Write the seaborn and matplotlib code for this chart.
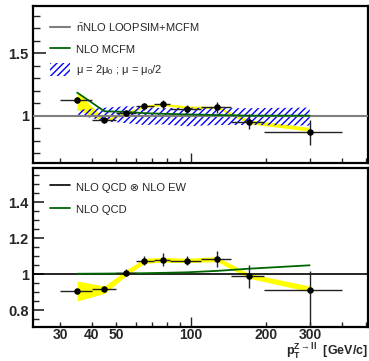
import numpy as np
import pandas as pd
import matplotlib
matplotlib.use("Agg")
import matplotlib.pyplot as plt
import seaborn as sns
from matplotlib.lines import Line2D
from matplotlib.patches import Patch
from matplotlib.ticker import FixedLocator, FuncFormatter, NullFormatter

# ---------------- data ----------------
pt_center = [35, 45, 55, 65, 77, 96, 127, 170, 298]
pt_lo = [30, 40, 50, 60, 71, 82, 110, 145, 195]
pt_hi = [40, 50, 60, 71, 82, 110, 145, 195, 400]

# top panel
top_data = [1.125, 0.963, 1.021, 1.074, 1.090, 1.053, 1.066, 0.952, 0.865]
top_err = [0.022, 0.015, 0.020, 0.027, 0.035, 0.033, 0.042, 0.063, 0.100]
top_yellow_lo = [1.050, 0.950, 1.010, 1.065, 1.080, 1.058, 1.058, 0.935, 0.875]
top_yellow_hi = [1.190, 0.975, 1.030, 1.085, 1.100, 1.078, 1.075, 0.968, 0.905]
top_scale_lo = [1.010, 0.955, 0.940, 0.925, 0.930, 0.915, 0.925, 0.925, 0.920]
top_scale_hi = [1.046, 1.064, 1.075, 1.070, 1.060, 1.065, 1.060, 1.060, 1.065]
top_nlo = [1.185, 1.035, 1.030, 1.020, 1.015, 1.010, 1.005, 1.000, 1.000]
top_ref = 1.0

# bottom panel
bot_data = [0.905, 0.917, 1.009, 1.076, 1.081, 1.074, 1.085, 0.989, 0.915]
bot_err_lo = [0.010, 0.015, 0.020, 0.025, 0.035, 0.025, 0.045, 0.065, 0.200]
bot_err_hi = [0.010, 0.015, 0.020, 0.025, 0.035, 0.025, 0.045, 0.065, 0.105]
bot_yellow_lo = [0.852, 0.894, 0.992, 1.061, 1.067, 1.065, 1.070, 0.978, 0.903]
bot_yellow_hi = [0.963, 0.935, 1.024, 1.089, 1.094, 1.089, 1.098, 1.005, 0.935]
bot_nlo = [1.003, 1.004, 1.005, 1.006, 1.008, 1.011, 1.019, 1.031, 1.050]
bot_ref = 1.0

x_range = [23.3, 510]
top_ylim = [0.62, 1.88]
bot_ylim = [0.709, 1.592]

x_major = [100]
x_minor = [30, 40, 50, 60, 70, 80, 90, 200, 300, 400, 500]
x_labeled = [30, 40, 50, 100, 200, 300]

top_labels = [r"$\bar{\mathrm{n}}$NLO LOOPSIM+MCFM", "NLO MCFM",
              r"$\mu$ = 2$\mu_{0}$ ; $\mu$ = $\mu_{0}$/2"]
bot_labels = ["NLO QCD \u2297 NLO EW", "NLO QCD"]
xlabel = r"$\mathbf{p}_{\mathbf{T}}^{\mathbf{Z\rightarrow ll}}$  [GeV/c]"

# ---------------- style ----------------
sns.set_theme(style="ticks")
plt.rcParams["font.family"] = ["Liberation Sans", "DejaVu Sans"]
plt.rcParams["mathtext.fontset"] = "custom"
plt.rcParams["mathtext.rm"] = "Liberation Sans"
plt.rcParams["mathtext.it"] = "Liberation Sans"
plt.rcParams["mathtext.bf"] = "Liberation Sans:bold"
plt.rcParams["hatch.linewidth"] = 1.0
plt.rcParams["hatch.color"] = "#0000ff"

GREEN = "#006600"
GRAY = "#7f7f7f"
YELLOW = "#ffff00"
BLUE = "#0000ff"

fig = plt.figure(figsize=(3.69, 3.61), dpi=100)
ax1 = fig.add_axes([33 / 369, 1 - 163 / 361, 335 / 369, 157 / 361])
ax2 = fig.add_axes([33 / 369, 1 - 326.7 / 361, 335 / 369, 159 / 361])

df = pd.DataFrame({
    "pt": pt_center, "lo": pt_lo, "hi": pt_hi,
    "top": top_data, "top_err": top_err,
    "top_nlo": top_nlo,
    "bot": bot_data, "bot_nlo": bot_nlo,
})
xerr = [np.array(pt_center) - np.array(pt_lo), np.array(pt_hi) - np.array(pt_center)]

fmt = FuncFormatter(lambda v, p: "%g" % v)


def style_axis(ax, ylim, ymaj, ymin, ymaj_len, ymin_len):
    ax.set_xscale("log")
    ax.set_xlim(x_range)
    ax.set_ylim(ylim)
    ax.xaxis.set_major_locator(FixedLocator(x_major))
    ax.xaxis.set_minor_locator(FixedLocator(x_minor))
    ax.yaxis.set_major_locator(FixedLocator(ymaj))
    ax.yaxis.set_minor_locator(FixedLocator(ymin))
    ax.yaxis.set_major_formatter(fmt)
    ax.tick_params(axis="x", which="major", direction="in", length=7.5, width=1.0,
                   top=False, bottom=True)
    ax.tick_params(axis="x", which="minor", direction="in", length=3.6, width=1.0,
                   top=False, bottom=True)
    ax.tick_params(axis="y", which="major", direction="in", length=ymaj_len, width=1.2,
                   left=True, right=False, labelsize=10.5, pad=3)
    ax.tick_params(axis="y", which="minor", direction="in", length=ymin_len, width=1.0,
                   left=True, right=False)
    for lab in ax.get_yticklabels():
        lab.set_fontweight("bold")
    for s in ax.spines.values():
        s.set_linewidth(1.6)
        s.set_color("black")
        s.set_visible(True)
    ax.set_xlabel("")
    ax.set_ylabel("")


# ---------------- top panel ----------------
ax1.fill_between(pt_center, top_yellow_lo, top_yellow_hi, color=YELLOW, linewidth=0, zorder=1)
ax1.fill_between(pt_center, top_scale_lo, top_scale_hi, facecolor="none", edgecolor=BLUE,
                 hatch="/////", linewidth=0, zorder=2)
ax1.plot(x_range, [top_ref, top_ref], color=GRAY, lw=1.5, zorder=3)
sns.lineplot(data=df, x="pt", y="top_nlo", ax=ax1, color=GREEN, lw=1.3,
             estimator=None, sort=False, zorder=4)
ax1.errorbar(pt_center, top_data, xerr=xerr, yerr=top_err, fmt="none",
             ecolor="#222222", elinewidth=1.0, capsize=0, zorder=5)
sns.scatterplot(data=df, x="pt", y="top", ax=ax1, color="black", s=22,
                edgecolor="black", linewidth=0, zorder=6)

style_axis(ax1, top_ylim, [1.0, 1.5], list(np.round(np.arange(0.7, 1.9, 0.1), 2)), 9, 4.7)
ax1.xaxis.set_major_formatter(NullFormatter())
ax1.xaxis.set_minor_formatter(NullFormatter())

h_top = [Line2D([], [], color=GRAY, lw=1.5),
         Line2D([], [], color=GREEN, lw=1.3),
         Patch(facecolor="none", edgecolor=BLUE, hatch="/////", linewidth=0)]
ax1.legend(h_top, top_labels, loc="upper left", bbox_to_anchor=(0.05, 0.897),
           frameon=False, fontsize=8, handlelength=1.8, handleheight=1.4,
           handletextpad=0.55, labelspacing=0.68, borderpad=0, borderaxespad=0)

# ---------------- bottom panel ----------------
ax2.fill_between(pt_center, bot_yellow_lo, bot_yellow_hi, color=YELLOW, linewidth=0, zorder=1)
ax2.plot(x_range, [bot_ref, bot_ref], color="black", lw=1.2, zorder=3)
sns.lineplot(data=df, x="pt", y="bot_nlo", ax=ax2, color=GREEN, lw=1.3,
             estimator=None, sort=False, zorder=4)
ax2.errorbar(pt_center, bot_data, xerr=xerr, yerr=[bot_err_lo, bot_err_hi], fmt="none",
             ecolor="#222222", elinewidth=1.0, capsize=0, zorder=5)
sns.scatterplot(data=df, x="pt", y="bot", ax=ax2, color="black", s=22,
                edgecolor="black", linewidth=0, zorder=6)

style_axis(ax2, bot_ylim, [0.8, 1.0, 1.2, 1.4],
           list(np.round(np.arange(0.75, 1.6, 0.05), 2)), 8, 4)
xfmt = FuncFormatter(lambda v, p: ("%g" % v) if round(v) in x_labeled else "")
ax2.xaxis.set_major_formatter(xfmt)
ax2.xaxis.set_minor_formatter(xfmt)
ax2.tick_params(axis="x", which="both", labelsize=10, pad=1)
for lab in ax2.get_xticklabels(which="both"):
    lab.set_fontweight("bold")

ax2.set_xlabel(xlabel, fontsize=9, fontweight="bold", ha="right", va="center")
ax2.xaxis.set_label_coords(1.0, -(351.5 - 326.7) / 159)

h_bot = [Line2D([], [], color="black", lw=1.2),
         Line2D([], [], color=GREEN, lw=1.3)]
ax2.legend(h_bot, bot_labels, loc="upper left", bbox_to_anchor=(0.05, 0.92),
           frameon=False, fontsize=8, handlelength=1.8, handleheight=1.4,
           handletextpad=0.55, labelspacing=0.87, borderpad=0, borderaxespad=0)

fig.savefig("out.png", dpi=100)
